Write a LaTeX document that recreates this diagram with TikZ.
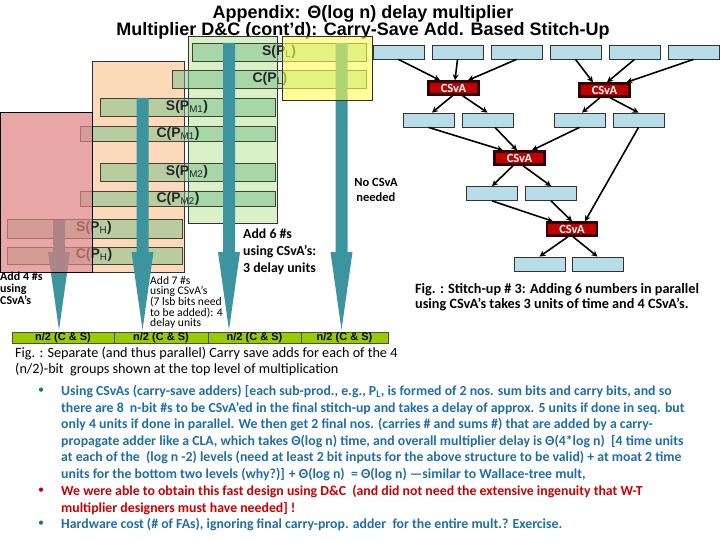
\documentclass[tikz,border=0pt]{standalone}
\usepackage{fontspec}
\setmainfont{Carlito}
\newfontfamily\headfont{Liberation Sans}
\usetikzlibrary{arrows.meta,positioning,calc}
\definecolor{grporange}{RGB}{252,217,184}
\definecolor{grpgreen}{RGB}{218,240,198}
\definecolor{grpred}{RGB}{222,128,128}
\definecolor{grpyellow}{RGB}{255,255,85}
\definecolor{barfill}{RGB}{118,192,138}
\definecolor{shaft}{RGB}{60,148,158}
\definecolor{sumblue}{RGB}{183,222,232}
\definecolor{csvared}{RGB}{192,0,0}
\definecolor{csvaedge}{RGB}{50,0,0}
\definecolor{cellgreen}{RGB}{153,204,0}
\definecolor{textblue}{RGB}{31,110,165}
\definecolor{textred}{RGB}{204,0,0}
\tikzset{
    title/.style={
        font=\headfont\bfseries\fontsize{18}{20}\selectfont,
        anchor=base,
        inner sep=0pt
    },
    barlabel/.style={
        font=\headfont\bfseries\fontsize{14}{15}\selectfont,
        text=black!85,
        inner sep=0pt
    },
    note/.style={
        font=\bfseries\fontsize{13.8}{17}\selectfont,
        align=left,
        inner sep=0pt
    },
    smallnote/.style={
        font=\fontsize{11.6}{10.6}\selectfont,
        align=left,
        inner sep=0pt
    },
    sumbox/.style={
        rectangle,
        draw=black!80,
        fill=sumblue,
        minimum width=51pt,
        minimum height=14pt,
        inner sep=0pt,
        line width=0.8pt
    },
    csva/.style={
        rectangle,
        draw=csvaedge,
        fill=csvared,
        minimum width=50pt,
        minimum height=13pt,
        inner sep=0pt,
        line width=2.4pt,
        text=white,
        font=\bfseries\fontsize{12.5}{12}\selectfont
    },
    cell/.style={
        rectangle,
        draw=black!70,
        fill=cellgreen,
        minimum height=11pt,
        inner sep=0pt,
        line width=0.6pt,
        font=\headfont\bfseries\fontsize{11}{11}\selectfont
    },
    link/.style={
        -{Stealth[length=6pt,width=6pt]},
        line width=1.6pt,
        draw=black
    },
    para/.style={
        font=\bfseries\fontsize{13.8}{16.6}\selectfont,
        align=left,
        anchor=north west,
        inner sep=0pt
    }
}
\begin{document}
\begin{tikzpicture}[x=1pt,y=-1pt]
    \useasboundingbox (0,0) rectangle (720,540);

    % Heading
    \node[title] (head1) at (363,19) {Appendix: Θ(log n) delay multiplier};
    \node[title] (head2) at (363,36) {Multiplier D\&C (cont’d): Carry-Save Add. Based Stitch-Up};

    % Sub-product groups
    \draw[black!80, fill=grporange, line width=0.8pt] (92,61) rectangle (184,272);
    \draw[black!80, fill=grpgreen, line width=0.8pt] (188,36) rectangle (277,223);

    % Sum / carry rows
    \foreach \xa/\ya/\xb/\yb in {
        192/43/366/61,
        172/70/366/88,
        100/98/275/116,
        80/126/275/141,
        100/163/275/181,
        80/191/275/206,
        7/219/182/238,
        7/247/182/264%
    } {
        \draw[black!75, fill=barfill, fill opacity=0.5, line width=0.7pt]
            (\xa,\ya) rectangle (\xb,\yb);
    }

    % Block arrows down to the result groups
    \foreach \cx/\ytop in {59/220, 142.5/98, 229/43, 341.5/43} {
        \fill[shaft] (\cx-6,\ytop) -- (\cx+6,\ytop) -- (\cx+6,252)
            -- (\cx+11,252) -- (\cx,330) -- (\cx-11,252)
            -- (\cx-6,252) -- cycle;
    }

    % Row labels
    \node[barlabel] (lblSL) at (279,52) {S(P\textsubscript{\mdseries L})};
    \node[barlabel] (lblCL) at (270,79) {C(P\textsubscript{\mdseries L})};
    \node[barlabel] (lblSM1) at (187,107) {S(P\textsubscript{\mdseries M1})};
    \node[barlabel] (lblCM1) at (178,134) {C(P\textsubscript{\mdseries M1})};
    \node[barlabel] (lblSM2) at (187,172) {S(P\textsubscript{\mdseries M2})};
    \node[barlabel] (lblCM2) at (178,199) {C(P\textsubscript{\mdseries M2})};
    \node[barlabel] (lblSH) at (94,228) {S(P\textsubscript{\mdseries H})};
    \node[barlabel] (lblCH) at (94,255) {C(P\textsubscript{\mdseries H})};

    % Tinted groups on top
    \draw[black, fill=grpred, fill opacity=0.7, line width=0.9pt] (0,112) rectangle (92,272);
    \draw[black!80, fill=grpyellow, fill opacity=0.6, line width=0.8pt] (282,36) rectangle (372,100);

    % Result groups
    \foreach \cx/\w [count=\k] in {63/102, 161/94, 254.5/93, 344.5/87} {
        \node[cell, minimum width=\w pt] (cell\k) at (\cx,337.5) {n/2 (C \& S)};
    }

    % Notes on the left figure
    \node[note, anchor=north, font=\bfseries\fontsize{12.5}{13}\selectfont] (nocsva) at (376,178) {No CSvA\\[2pt]\hspace*{2pt}needed};
    \node[note, anchor=north west] (add6) at (243,229) {Add 6 \#s\\using CSvA’s:\\3 delay units};
    \node[note, anchor=north west, font=\bfseries\fontsize{12}{12}\selectfont] (add4) at (0,272) {Add 4 \#s\\using\\CSvA’s};
    \node[smallnote, anchor=north west] (add7) at (150,276) {Add 7 \#s\\using CSvA’s\\(7 lsb bits need\\to be added): 4\\delay units};

    % Stitch-up tree
    \foreach \i in {0,...,5} {
        \node[sumbox] (t\i) at ({398.5+59*\i},52) {};
    }
    \node[csva] (c1) at (453.5,88) {CSvA};
    \node[csva] (c2) at (604.5,90) {CSvA};
    \foreach \i/\cx in {0/428.5, 1/487.5, 2/579.5, 3/638.5} {
        \node[sumbox] (r\i) at (\cx,120) {};
    }
    \node[csva] (c3) at (519.5,158) {CSvA};
    \node[sumbox] (s0) at (492,193.5) {};
    \node[sumbox] (s1) at (551,193.5) {};
    \node[csva] (c4) at (572,229) {CSvA};
    \node[sumbox] (u0) at (539.5,264) {};
    \node[sumbox] (u1) at (597.5,264) {};

    \draw[link] (t0.south) -- ([xshift=-13.5pt]c1.north);
    \draw[link] (t1.south) -- ([xshift=1.5pt]c1.north);
    \draw[link] (t2.south) -- ([xshift=14.5pt]c1.north);
    \draw[link] ([xshift=-1pt]c1.south) -- ([xshift=3.5pt]r0.north);
    \draw[link] ([xshift=9pt]c1.south) -- (r1.north);
    \draw[link] (t3.south) -- ([xshift=-11.5pt]c2.north);
    \draw[link] (t4.south) -- ([xshift=2.5pt]c2.north);
    \draw[link] (t5.south) -- ([xshift=22pt]c2.north);
    \draw[link] ([xshift=-4.5pt]c2.south) -- ([xshift=2.5pt]r2.north);
    \draw[link] ([xshift=5.5pt]c2.south) -- (r3.north);
    \draw[link] (r0.south) -- ([xshift=-16.5pt]c3.north);
    \draw[link] ([xshift=7.5pt]r1.south) -- ([xshift=-2.5pt]c3.north);
    \draw[link] (r2.south) -- ([xshift=12.5pt]c3.north);
    \draw[link] (r3.south) -- ([xshift=13pt]c4.north);
    \draw[link] ([xshift=-6.5pt]c3.south) -- (s0.north);
    \draw[link] ([xshift=3.5pt]c3.south) -- (s1.north);
    \draw[link] (s0.south) -- ([xshift=-19pt]c4.north);
    \draw[link] (s1.south) -- (c4.north);
    \draw[link] ([xshift=-4pt]c4.south) -- (u0.north);
    \draw[link] ([xshift=1pt]c4.south) -- (u1.north);

    % Captions
    \node[note, anchor=north west, font=\bfseries\fontsize{14.2}{15}\selectfont] (cap3) at (415,283) {Fig. : Stitch-up \# 3: Adding 6 numbers in parallel\\using CSvA’s takes 3 units of time and 4 CSvA’s.};
    \node[font=\fontsize{14.2}{16}\selectfont, align=left, anchor=north west, inner sep=0pt] (cap1) at (15,347) {Fig. : Separate (and thus parallel) Carry save adds for each of the 4\\(n/2)-bit\ \ groups shown at the top level of multiplication};

    % Bullet points
    \foreach \yb/\col in {391/textblue, 491/textred, 524/textblue} {
        \node[font=\fontsize{12}{12}\selectfont, text=\col, inner sep=0pt] at (41,\yb) {•};
    }
    \node[para, text=textblue] (item1) at (61,385) {Using CSvAs (carry-save adders) [each sub-prod., e.g., P\textsubscript{L}, is formed of 2 nos. sum bits and carry bits, and so\\
        there are 8\ \ n-bit \#s to be CSvA’ed in the final stitch-up and takes a delay of approx. 5 units if done in seq. but\\
        only 4 units if done in parallel. We then get 2 final nos. (carries \# and sums \#) that are added by a carry-\\
        propagate adder like a CLA, which takes Θ(log n) time, and overall multiplier delay is Θ(4*log n)\ \ [4 time units\\
        at each of the\ \ (log n -2) levels (need at least 2 bit inputs for the above structure to be valid) + at moat 2 time\\
        units for the bottom two levels (why?)] + Θ(log n)\ \ = Θ(log n) —similar to Wallace-tree mult,};
    \node[para, text=textred] (item2) at (61,485) {We were able to obtain this fast design using D\&C\ \ (and did not need the extensive ingenuity that W-T\\
        multiplier designers must have needed] !};
    \node[para, text=textblue] (item3) at (61,518) {Hardware cost (\# of FAs), ignoring final carry-prop. adder\ \ for the entire mult.? Exercise.};
\end{tikzpicture}
\end{document}
